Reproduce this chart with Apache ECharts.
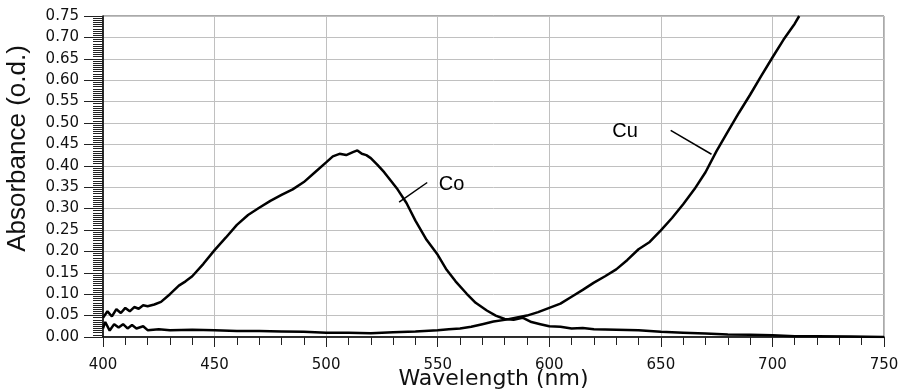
<!DOCTYPE html>
<html>
<head>
<meta charset="utf-8">
<script src="https://cdn.jsdelivr.net/npm/echarts@6/dist/echarts.min.js"></script>
<style>
html,body{margin:0;padding:0;background:#fff;}
#chart{width:903px;height:389px;}
</style>
</head>
<body>
<div id="chart"></div>
<script>
// Co absorbance spectrum [wavelength nm, absorbance o.d.]
const coSpectrum = [
  [400,0.045],[402,0.060],[404,0.048],[406,0.065],[408,0.056],[410,0.068],[412,0.060],[414,0.070],
  [416,0.066],[418,0.074],[420,0.072],[423,0.076],[426,0.082],[430,0.100],[434,0.120],[437,0.130],
  [440,0.142],[445,0.171],[450,0.203],[455,0.232],[460,0.262],[465,0.285],[470,0.302],[475,0.318],
  [480,0.332],[485,0.345],[490,0.362],[495,0.385],[500,0.408],[503,0.422],[506,0.428],[509,0.425],
  [512,0.432],[514,0.436],[516,0.428],[518,0.425],[520,0.418],[523,0.402],[526,0.385],[529,0.365],
  [532,0.345],[536,0.313],[540,0.272],[545,0.227],[550,0.192],[554,0.157],[558,0.130],[563,0.101],
  [567,0.080],[572,0.062],[576,0.050],[580,0.042],[584,0.040],[588,0.045],[592,0.035],[596,0.030],
  [600,0.025],[605,0.024],[610,0.020],[615,0.021],[620,0.018],[630,0.017],[640,0.016],[650,0.012],
  [660,0.010],[670,0.008],[680,0.006],[690,0.005],[700,0.004],[710,0.002],[720,0.002],[735,0.001],[750,0.000]
];
// Cu absorbance spectrum [wavelength nm, absorbance o.d.]
const cuSpectrum = [
  [400,0.020],[401,0.035],[403,0.015],[405,0.030],[407,0.022],[409,0.030],[411,0.020],[413,0.028],
  [415,0.020],[418,0.025],[420,0.016],[425,0.018],[430,0.016],[440,0.017],[450,0.016],[460,0.014],
  [470,0.014],[480,0.013],[490,0.012],[500,0.010],[510,0.010],[520,0.009],[530,0.011],[540,0.013],
  [550,0.016],[555,0.018],[560,0.020],[565,0.024],[570,0.030],[575,0.036],[580,0.040],[585,0.045],
  [590,0.050],[595,0.058],[600,0.068],[605,0.078],[610,0.094],[615,0.110],[620,0.127],[625,0.142],
  [630,0.158],[635,0.180],[640,0.205],[645,0.222],[650,0.249],[655,0.278],[660,0.310],[665,0.345],
  [670,0.385],[675,0.435],[680,0.480],[685,0.524],[690,0.566],[695,0.610],[700,0.653],[705,0.695],
  [710,0.732],[712,0.750]
];
// annotation pointers (data coordinates) and label anchors
const coPointer = [[532.7,0.315],[545.3,0.361]];
const coLabelAt = [550.5,0.356];
const cuPointer = [[654.4,0.483],[672.7,0.427]];
const cuLabelAt = [628.2,0.480];

const xMin = 400, xMax = 750, xStep = 50;
const yMin = 0, yMax = 0.75, yStep = 0.05;

const chart = echarts.init(document.getElementById('chart'));
const axisFont = 'DejaVu Sans';
chart.setOption({
  animation: false,
  backgroundColor: '#fff',
  grid: {left: 103, right: 19, top: 16, bottom: 52, show: true, borderColor: '#555', borderWidth: 1,
         containLabel: false, outerBoundsMode: 'none'},
  xAxis: {
    type: 'value', min: xMin, max: xMax, interval: xStep,
    name: 'Wavelength (nm)', nameLocation: 'middle', nameGap: 31, nameMoveOverlap: false,
    nameTextStyle: {fontFamily: axisFont, fontSize: 22, color: '#111'},
    axisLine: {lineStyle: {color: '#000', width: 1.5}},
    axisTick: {length: 10, lineStyle: {color: '#222'}},
    minorTick: {show: true, splitNumber: 5, length: 8, lineStyle: {color: '#222'}},
    axisLabel: {margin: 21, fontFamily: axisFont, fontSize: 15, color: '#111'},
    splitLine: {show: true, lineStyle: {color: '#c0c0c0', width: 1}}
  },
  yAxis: {
    type: 'value', min: yMin, max: yMax, interval: yStep,
    name: 'Absorbance (o.d.)', nameLocation: 'middle', nameGap: 72, nameRotate: 90,
    nameMoveOverlap: false,
    nameTextStyle: {fontFamily: 'Liberation Sans', fontSize: 26, color: '#111', padding: [0,0,0,56]},
    axisLine: {lineStyle: {color: '#000', width: 1.5}},
    axisTick: {length: 19, lineStyle: {color: '#222'}},
    minorTick: {show: true, splitNumber: 10, length: 10, lineStyle: {color: '#222'}},
    axisLabel: {margin: 24, fontFamily: axisFont, fontSize: 15, color: '#111',
      formatter: v => v.toFixed(2)},
    splitLine: {show: true, lineStyle: {color: '#c0c0c0', width: 1}}
  },
  series: [
    {
      name: 'Co', type: 'line', data: coSpectrum, showSymbol: false, symbol: 'none',
      lineStyle: {color: '#000', width: 2.5}, z: 3,
      markLine: {
        silent: true, symbol: ['none','none'], label: {show: false},
        lineStyle: {color: '#000', width: 1.5, type: 'solid'},
        data: [[{coord: coPointer[0]}, {coord: coPointer[1]}]]
      },
      markPoint: {
        silent: true, symbol: 'circle', symbolSize: 0,
        label: {show: true, position: 'right', distance: 0, formatter: 'Co',
          fontFamily: 'Liberation Sans', fontSize: 20, color: '#000'},
        data: [{coord: coLabelAt}]
      }
    },
    {
      name: 'Cu', type: 'line', data: cuSpectrum, showSymbol: false, symbol: 'none',
      lineStyle: {color: '#000', width: 2.5}, z: 3,
      markLine: {
        silent: true, symbol: ['none','none'], label: {show: false},
        lineStyle: {color: '#000', width: 1.5, type: 'solid'},
        data: [[{coord: cuPointer[0]}, {coord: cuPointer[1]}]]
      },
      markPoint: {
        silent: true, symbol: 'circle', symbolSize: 0,
        label: {show: true, position: 'right', distance: 0, formatter: 'Cu',
          fontFamily: 'Liberation Sans', fontSize: 20, color: '#000'},
        data: [{coord: cuLabelAt}]
      }
    }
  ]
});
</script>
</body>
</html>
